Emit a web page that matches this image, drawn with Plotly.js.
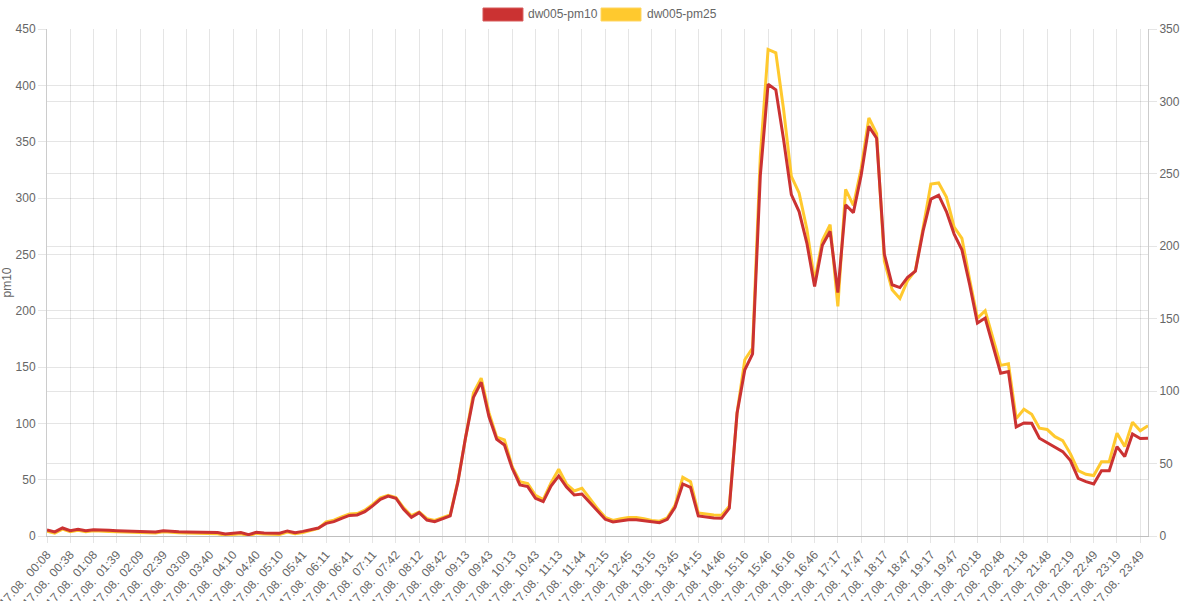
<!DOCTYPE html>
<html>
<head>
<meta charset="utf-8">
<script src="https://cdn.plot.ly/plotly-3.0.1.min.js"></script>
<style>
  html, body { margin: 0; padding: 0; background: #fff; }
  #chart { width: 1200px; height: 601px; }
</style>
</head>
<body>
<div id="chart"></div>
<script>
// one label every third reading
const day = "17.08.";
const tickTimes = [
  "00:08", "00:38", "01:08", "01:39", "02:09", "02:39", "03:09", "03:40",
  "04:10", "04:40", "05:10", "05:41", "06:11", "06:41", "07:11", "07:42",
  "08:12", "08:42", "09:13", "09:43", "10:13", "10:43", "11:13", "11:44",
  "12:15", "12:45", "13:15", "13:45", "14:15", "14:46", "15:16", "15:46",
  "16:16", "16:46", "17:17", "17:47", "18:17", "18:47", "19:17", "19:47",
  "20:18", "20:48", "21:18", "21:48", "22:19", "22:49", "23:19", "23:49"
];

const seriesNames = ["dw005-pm10", "dw005-pm25"];

const pm10 = [
  5.3, 3.6, 7.1, 4.7, 6.0, 4.7, 5.6, 5.0, 5.0, 4.7,
  4.7, 4.4, 4.1, 3.8, 3.6, 4.7, 4.0, 3.8, 3.6, 3.3,
  3.0, 3.3, 3.0, 1.8, 2.4, 3.0, 1.2, 3.3, 2.7, 2.4,
  2.4, 4.5, 3.0, 4.1, 5.6, 7.1, 11.2, 12.7, 15.7, 18.3,
  18.7, 21.6, 26.7, 32.6, 35.5, 33.5, 23.7, 16.6, 20.7, 14.2,
  12.7, 15.4, 17.8, 48, 88, 123, 136.5, 106, 85.9, 80.8,
  60.1, 45.3, 43.8, 33.5, 30.5, 44.4, 53.3, 43.5, 36.4, 37.3,
  29.6, 21.6, 14.8, 12.4, 13.6, 14.5, 14.5, 13.6, 12.4, 11.8,
  14.8, 25.5, 46.2, 43.2, 17.8, 16.6, 16.0, 15.7, 24.6, 109,
  147.5, 161.7, 320, 401, 396, 352, 303, 288, 260, 221.5,
  258, 270.4, 216, 294, 287, 320, 363.6, 353, 250, 223,
  220.5, 229.5, 235, 271, 299, 302.5, 288, 268, 254, 223,
  189, 193.4, 168.2, 144.5, 146, 96.8, 100.3, 100, 86.8, 82.6,
  78.6, 74.9, 66.9, 51.2, 48.3, 46.2, 58, 58, 79.3, 70.5,
  90.6, 86.5, 86.8
];

const pm25 = [
  3.3, 2.0, 4.7, 2.9, 3.9, 2.9, 3.6, 3.1, 3.1, 2.9,
  2.9, 2.6, 2.4, 2.2, 2.0, 2.9, 2.3, 2.2, 2.0, 1.8,
  1.5, 1.8, 1.5, 0.6, 1.1, 1.5, 0.3, 1.8, 1.3, 1.1,
  1.1, 2.7, 1.5, 2.4, 3.8, 5.2, 9.7, 10.9, 13.2, 15.2,
  15.5, 17.8, 21.8, 26.4, 28.1, 26.5, 19.4, 14.0, 16.6, 12.0,
  10.8, 12.8, 14.6, 38, 69.5, 98.8, 109, 85.2, 68.2, 66.3,
  47.8, 37.5, 36.2, 28.1, 25.1, 36.6, 46.1, 35.9, 31.1, 33,
  26, 18.9, 12.9, 10.7, 12, 12.7, 12.7, 12, 10.7, 10.2,
  12.5, 21.2, 40.5, 37.5, 15.9, 15, 14.5, 14.3, 20.5, 85,
  121.7, 129.7, 262, 335.9, 333.6, 294.4, 248.3, 236.8, 212, 175.8,
  204, 215, 158.5, 239.3, 228.2, 253.5, 288.6, 277.7, 189.6, 170,
  164, 176.4, 183.3, 213, 243, 243.7, 234, 213.2, 205.5, 176.9,
  150.4, 155.5, 136.6, 117.8, 118.9, 81, 87.5, 84, 74.4, 73.5,
  68.6, 65.9, 56.7, 45.1, 42.6, 41.7, 51.3, 51.3, 71, 61.7,
  78.6, 72.6, 76.2
];

const red = "#cb3232";
const yellow = "#ffc92e";
const grid = "rgba(0,0,0,0.1)";
const textGray = "#666";

const xs = pm10.map((_, i) => i);
const tickVals = tickTimes.map((_, i) => i * 3);
const tickText = tickTimes.map(t => day + "\u00a0\u00a0" + t);

// pm25 sits on the base (right) axis so pm10 on the overlay draws on top
const data = [
  {
    x: xs,
    y: pm25,
    yaxis: "y",
    mode: "lines",
    line: { color: yellow, width: 3 },
    name: seriesNames[1],
    showlegend: false
  },
  {
    x: xs,
    y: pm10,
    yaxis: "y2",
    mode: "lines",
    line: { color: red, width: 3 },
    name: seriesNames[0],
    showlegend: false
  }
];

const tickFont = { family: "Liberation Sans, Arial, sans-serif", size: 12, color: textGray };

const layout = {
  width: 1200,
  height: 601,
  paper_bgcolor: "#fff",
  plot_bgcolor: "#fff",
  font: tickFont,
  margin: { l: 47, r: 52, t: 29, b: 65 },
  xaxis: {
    range: [0, pm10.length - 1],
    tickvals: tickVals,
    ticktext: tickText,
    tickangle: -48,
    ticklabeloverflow: "allow",
    ticks: "outside",
    ticklen: 6,
    tickcolor: grid,
    showgrid: true,
    gridcolor: grid,
    showline: true,
    linecolor: "rgba(0,0,0,0.25)",
    zeroline: false,
    tickfont: tickFont
  },
  yaxis: {
    side: "right",
    range: [0, 350],
    dtick: 50,
    ticks: "outside",
    ticklen: 8,
    tickcolor: grid,
    gridcolor: grid,
    showline: true,
    linecolor: "rgba(0,0,0,0.2)",
    zeroline: false,
    tickfont: tickFont
  },
  yaxis2: {
    overlaying: "y",
    side: "left",
    range: [0, 450],
    dtick: 50,
    ticks: "outside",
    ticklen: 8,
    tickcolor: grid,
    showgrid: true,
    gridcolor: grid,
    showline: true,
    linecolor: "rgba(0,0,0,0.2)",
    zeroline: false,
    tickfont: tickFont,
    title: { text: "pm10", font: tickFont, standoff: 4 }
  },
  shapes: [
    { type: "rect", xref: "paper", yref: "paper", x0: 0.396, x1: 0.4323, y0: 1.0158, y1: 1.0414,
      fillcolor: red, line: { color: "#d65a5a", width: 1 } },
    { type: "rect", xref: "paper", yref: "paper", x0: 0.5032, x1: 0.5395, y0: 1.0158, y1: 1.0414,
      fillcolor: yellow, line: { color: "#ffd560", width: 1 } }
  ],
  annotations: [
    { text: seriesNames[0], xref: "paper", yref: "paper", x: 0.435, y: 1.0286,
      xanchor: "left", yanchor: "middle", showarrow: false, font: tickFont },
    { text: seriesNames[1], xref: "paper", yref: "paper", x: 0.543, y: 1.0286,
      xanchor: "left", yanchor: "middle", showarrow: false, font: tickFont }
  ]
};

Plotly.newPlot("chart", data, layout, { displayModeBar: false, staticPlot: true });
</script>
</body>
</html>
